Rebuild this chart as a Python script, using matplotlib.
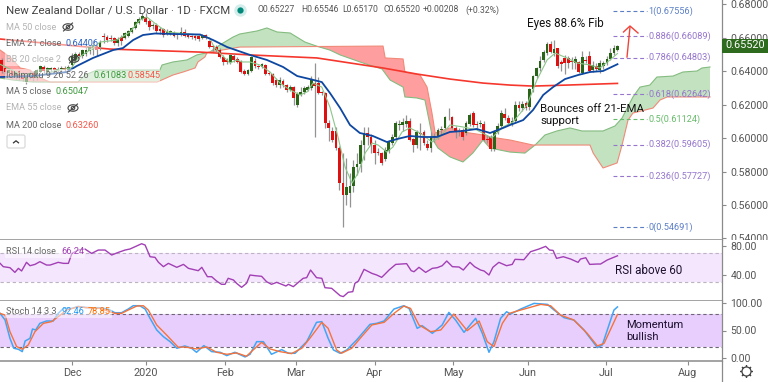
import numpy as np
import matplotlib
matplotlib.use("Agg")
import matplotlib.pyplot as plt
from matplotlib.patches import Ellipse, FancyBboxPatch, Rectangle

plt.rcParams['font.family'] = ['Roboto', 'DejaVu Sans']

# ---------- candles: one row per trading day (open, high, low, close)
ohlc = [
(.6466,.6478,.6388,.6400),(.6418,.6430,.6382,.6394),(.6388,.6412,.6370,.6406),(.6406,.6412,.6358,.6364),
(.6370,.6400,.6352,.6394),(.6400,.6406,.6346,.6358),(.6382,.6394,.6340,.6352),(.6334,.6376,.6322,.6370),
(.6364,.6400,.6352,.6388),(.6388,.6400,.6340,.6358),(.6358,.6412,.6346,.6406),(.6394,.6436,.6388,.6430),
(.6424,.6436,.6388,.6400),(.6394,.6424,.6388,.6418),(.6406,.6424,.6394,.6418),(.6418,.6424,.6394,.6406),
(.6406,.6424,.6394,.6412),(.6412,.6430,.6400,.6418),(.6418,.6430,.6394,.6406),(.6406,.6436,.6400,.6424),
(.6436,.6507,.6424,.6490),(.6466,.6513,.6454,.6501),(.6501,.6513,.6478,.6490),(.6490,.6531,.6478,.6525),
(.6501,.6555,.6490,.6525),(.6519,.6555,.6501,.6543),(.6525,.6585,.6496,.6555),(.6549,.6561,.6490,.6525),
(.6543,.6585,.6525,.6573),(.6609,.6627,.6567,.6603),(.6603,.6615,.6573,.6585),(.6597,.6615,.6579,.6591),
(.6597,.6603,.6555,.6567),(.6567,.6603,.6549,.6591),(.6603,.6615,.6555,.6579),(.6597,.6633,.6591,.6627),
(.6609,.6645,.6603,.6639),(.6633,.6663,.6627,.6657),(.6657,.6699,.6651,.6693),(.6687,.6722,.6681,.6710),
(.6710,.6746,.6704,.6728),(.6722,.6746,.6681,.6693),(.6699,.6710,.6645,.6663),(.6669,.6687,.6651,.6675),
(.6675,.6687,.6627,.6639),(.6651,.6663,.6621,.6639),(.6651,.6657,.6603,.6615),(.6621,.6651,.6615,.6633),
(.6627,.6645,.6615,.6639),(.6633,.6639,.6603,.6609),(.6621,.6627,.6591,.6615),(.6615,.6663,.6609,.6633),
(.6633,.6651,.6603,.6609),(.6621,.6627,.6597,.6603),(.6609,.6615,.6591,.6603),(.6609,.6615,.6585,.6597),
(.6609,.6615,.6579,.6591),(.6597,.6621,.6591,.6615),(.6615,.6621,.6591,.6597),(.6579,.6585,.6537,.6543),
(.6549,.6555,.6519,.6543),(.6543,.6555,.6513,.6525),(.6525,.6537,.6478,.6484),(.6484,.6496,.6436,.6454),
(.6466,.6478,.6442,.6454),(.6454,.6501,.6442,.6496),(.6490,.6501,.6454,.6466),(.6472,.6484,.6448,.6454),
(.6460,.6466,.6388,.6394),(.6400,.6412,.6376,.6382),(.6382,.6412,.6376,.6406),(.6400,.6490,.6394,.6484),
(.6460,.6478,.6418,.6430),(.6430,.6436,.6412,.6424),(.6424,.6448,.6418,.6442),(.6436,.6442,.6376,.6382),
(.6388,.6394,.6376,.6382),(.6382,.6388,.6316,.6328),(.6346,.6358,.6304,.6316),(.6316,.6364,.6298,.6346),
(.6340,.6352,.6304,.6316),(.6316,.6322,.6275,.6287),(.6287,.6316,.6281,.6304),(.6304,.6310,.6197,.6239),
(.6197,.6275,.6185,.6263),(.6257,.6304,.6251,.6275),(.6275,.6310,.6263,.6298),(.6287,.6316,.6281,.6304),
(.6298,.6370,.6287,.6352),(.6328,.6448,.6006,.6310),(.6328,.6364,.6263,.6269),(.6272,.6281,.6257,.6269),
(.6269,.6275,.6060,.6089),(.6089,.6107,.5980,.6060),(.6042,.6066,.5975,.5988),(.6042,.6066,.5928,.5940),
(.5940,.5950,.5690,.5731),(.5731,.5910,.5469,.5660),(.5660,.5880,.5600,.5707),(.5671,.5790,.5590,.5713),
(.5713,.5870,.5680,.5827),(.5827,.5910,.5780,.5845),(.5845,.5990,.5800,.5958),(.5958,.6066,.5869,.6030),
(.6030,.6066,.5958,.6006),(.6006,.6024,.5910,.5958),(.5958,.5990,.5845,.5910),(.5916,.5940,.5900,.5910),
(.5910,.5916,.5839,.5851),(.5875,.5946,.5863,.5928),(.5922,.5988,.5910,.5976),(.5970,.6024,.5958,.6006),
(.6006,.6100,.5990,.6090),(.6078,.6107,.6048,.6084),(.6078,.6120,.6042,.6096),(.6084,.6137,.6066,.6102),
(.6102,.6120,.5980,.5988),(.5994,.6000,.5916,.5958),(.5958,.6048,.5940,.6036),(.6030,.6090,.5928,.6024),
(.6036,.6048,.5958,.5970),(.5964,.5990,.5928,.5940),(.5940,.6036,.5916,.6006),(.6006,.6030,.5976,.6012),
(.6006,.6060,.5994,.6048),(.6048,.6072,.6018,.6054),(.6060,.6131,.6048,.6125),(.6131,.6179,.6107,.6131),
(.6125,.6131,.6054,.6060),(.6060,.6072,.6000,.6036),(.6042,.6060,.6012,.6036),(.6048,.6060,.5988,.6006),
(.6030,.6100,.6018,.6090),(.6084,.6150,.6072,.6137),(.6150,.6160,.6066,.6078),(.6084,.6100,.6060,.6078),
(.6084,.6107,.6066,.6090),(.6084,.6100,.5985,.5988),(.5994,.6018,.5970,.5988),(.6006,.6018,.5925,.5934),
(.5934,.6050,.5925,.6036),(.6036,.6090,.6024,.6070),(.6072,.6170,.6060,.6150),(.6144,.6180,.6110,.6120),
(.6120,.6137,.6080,.6090),(.6084,.6125,.6072,.6102),(.6102,.6221,.6090,.6197),(.6197,.6221,.6160,.6179),
(.6179,.6221,.6160,.6203),(.6209,.6221,.6170,.6179),(.6185,.6300,.6170,.6293),(.6293,.6376,.6275,.6370),
(.6370,.6424,.6358,.6418),(.6418,.6490,.6400,.6460),(.6466,.6525,.6454,.6513),(.6507,.6573,.6496,.6561),
(.6561,.6579,.6507,.6513),(.6507,.6585,.6490,.6531),(.6537,.6540,.6415,.6430),(.6454,.6466,.6400,.6442),
(.6478,.6496,.6380,.6448),(.6478,.6490,.6420,.6448),(.6460,.6484,.6410,.6454),(.6448,.6490,.6410,.6472),
(.6454,.6460,.6388,.6394),(.6388,.6520,.6380,.6484),(.6466,.6490,.6445,.6460),(.6490,.6520,.6394,.6400),
(.6406,.6460,.6394,.6436),(.6430,.6450,.6400,.6412),(.6406,.6465,.6390,.6448),(.6430,.6460,.6412,.6448),
(.6448,.6490,.6436,.6472),(.6472,.6535,.6466,.6507),(.6507,.6555,.6496,.6537),(.65227,.65546,.6517,.6552),
]

# ---------- overlay studies
ema21_i = [-.4,8.9,18.6,21.4,26,31.7,34.5,37.4,40.2,43.6,48.7,56.4,60.1,64.1,70.6,75.4,80,84,87.6,91,93.3,96.2,99,101.8,105.5,109.5,112.4,116,119.7,123.7,127.4,131.1,135,138.8,142.5,144.5,148.2,151,153.9,156.7,160.1,163.8,167.2,170.9,175]
ema21_v = [.6364,.6370,.6394,.6430,.6478,.6525,.6537,.6585,.6615,.6624,.6621,.6618,.6585,.6543,.6496,.6466,.6424,.6370,.6352,.6334,.6269,.6179,.6078,.6030,.6012,.5976,.5994,.6012,.6006,.6006,.6036,.6042,.6054,.6030,.6060,.6078,.6107,.6167,.6257,.6304,.6352,.6376,.6394,.6400,.64406]
ma200_i = [-.4,30.8,56.4,70.6,89.6,99,108.4,118,127.4,136.8,144.5,151,160.6,175]
ma200_v = [.6591,.6531,.6513,.6496,.6478,.6448,.6418,.6382,.6352,.6328,.6316,.6310,.6316,.6326]
ma5_i = [-.4,5,10,15,20,21.7,26,28,32.8,36.5,39.3,41.3,44.2,47,56.4,59.2,60.1,62,64.9,66.9,68.3,70.6,73.4,76.3,79.1,82,84.8,86.8,88.5,91,93.3,95.6,97.6,99.6,101.3,103.3,105.3,107,109.5,111.2,113.8,116,118.9,122.3,124.6,127.4,131.1,135,139.3,142.5,145.3,149.3,152.1,155,157.3,160.6,163.5,167.2,170,172.9,175]
ma5_v = [.6440,.6385,.6365,.6400,.6420,.6478,.6537,.6573,.6585,.6633,.6704,.6722,.6675,.6633,.6615,.6597,.6555,.6507,.6448,.6466,.6454,.6454,.6436,.6394,.6328,.6287,.6257,.6275,.6328,.6304,.6185,.6006,.5827,.5731,.5791,.5910,.5970,.5958,.5916,.5946,.6036,.6060,.6030,.5976,.6006,.6078,.6066,.6048,.6000,.6066,.6095,.6197,.6346,.6466,.6507,.6478,.6448,.6436,.6418,.6466,.65047]
span_a_i = [-.4,3.3,8.9,18.6,21.7,23.7,27.1,45,45.6,48.7,52.7,55.5,59.2,62,65.8,67.7,72.6,75.4,78.3,82,86.2,89.9,93.3,96.2,102.7,108.1,110.4,114.1,114.6,118,120.3,122.6,124,127.4,131.1,133.9,136.8,138.8,144.5,148.7,151.6,154.4,157.8,161.5,164.9,170.9,174.3,176.3,179.4,181.4,184.2,186.2,190.8,193.6,197.6,199,201.3]
span_a_v = [.6358,.6346,.6334,.6334,.6334,.6376,.6406,.6406,.6436,.6454,.6466,.6496,.6513,.6555,.6603,.6621,.6639,.6657,.6633,.6627,.6573,.6546,.6525,.6496,.6448,.6412,.6346,.6304,.6245,.6239,.6227,.5988,.5940,.5887,.5857,.5910,.5988,.5940,.5916,.5910,.5958,.6018,.6042,.6060,.6042,.6042,.6072,.6119,.6245,.6304,.6316,.6364,.6370,.6394,.6400,.6418,.6424]
span_b_i = [-.4,2.4,5.3,8.1,10.4,13.8,44.2,48.7,51.6,55,55.8,57.8,58.4,67.7,108.4,109,114.1,114.6,118.9,120.9,122.3,123.2,127.4,131.1,136.8,138.8,144.5,151,167.2,168.1,170.9,174.9,176.3,178,179.4,185.1,187.1,189.1,201.3]
span_b_v = [.6525,.6484,.6418,.6406,.6364,.6334,.6334,.6376,.6394,.6418,.6454,.6484,.6510,.6543,.6549,.6478,.6472,.6394,.6376,.6304,.6149,.6030,.6060,.6036,.6018,.6006,.5988,.5958,.5958,.5910,.5821,.5851,.5958,.6107,.6149,.6179,.6227,.6245,.6245]

fib_ratio = ['1', '0.886', '0.786', '0.618', '0.5', '0.382', '0.236', '0']
fib_price = [.67556, .66089, .64803, .62642, .61124, .59605, .57727, .54691]
fib_color = ['#5B7FC7', '#9575CD', '#9575CD', '#9575CD', '#66BB6A', '#9575CD', '#9575CD', '#5B7FC7']

# ---------- RSI
rsi_i = [-.4,.5,2.4,3.8,4.8,5.7,7.1,8.1,9.5,10.9,12.8,13.8,16.1,17.6,19,20,21.8,23.7,25.6,27.5,29.4,31.3,33.2,35.1,36.5,39.8,40.8,42.2,43.6,44.6,46,47.4,49.8,51.7,53.1,55.9,56.9,58.5,59.7,61.1,62.5,63.5,64.4,65.9,66.8,68.2,69.6,70.6,72,73.9,75.3,76.7,78.2,80.8,81.5,82.9,85.7,86.7,87.8,89.5,91,91.9,93.8,96.2,97.1,98.5,99.8,100.4,101.4,103,105.2,106.6,108,108.7,
         110.1,112,115.1,116.4,117.2,118.6,120.5,122.4,123.8,125.2,126.5,128.1,130,131.2,133.1,134.4,136.1,137.1,138.5,139.6,141.3,143.5,145.1,145.9,148.4,150.3,152.7,154.6,155.7,156.7,157.7,159.6,161.7,163.8,164.5,166,167.1,169.3,170.2,172.1,175]
rsi_v = [55.9,51.4,50,43.6,49.1,45.5,57.3,52.7,54.5,58.2,53.6,53.6,57.3,55.9,55.9,69.5,74.1,75.5,69.5,74.1,74.1,67.3,70.9,74.1,75.5,82.7,80.9,65,64.1,57.3,51.4,55.9,50.5,54.5,49.1,45.9,50.5,37.7,37.7,31.8,27.3,27.3,35.5,33.2,28.6,23.2,28.6,40,39.1,38.2,30.9,27.3,30,25,27.3,24.1,35.5,36.4,46.8,36.4,35.5,22.7,21.8,11.8,10.5,16.4,17.3,28.6,31.8,47.7,42.3,40,36.8,40,
         46.8,54.5,55.5,45.9,44.5,50.5,43.6,49.1,50,52.7,59.1,51.4,50.9,46.8,57.3,51.4,46.8,45.5,40,50.5,57.3,52.7,54.5,61.4,60.9,71.8,75.5,79.1,74.1,73.6,62.7,65,61.8,57.3,61.8,63.6,54.5,55,55,60.5,66.24]

# ---------- Stochastic
k_i = [-.4,1,2.4,3.5,4.8,5.9,6.7,8.1,8.8,9.7,10.9,12.8,14.7,16.1,17.6,20,21.8,23.7,25.6,28,30.3,32.2,34.1,36,37.4,39.3,40.8,42.2,44.1,46,47.9,49.8,52.1,54,55.4,57.5,59.7,62.1,64,66.3,69.2,70.6,72.5,74.4,76.7,79.6,81.5,83.4,86.7,89.5,91,92.8,94.3,96.2,98.1,100.9,104.7,106.6,108.7,
       111.5,114.3,115.8,118.1,119.5,122.4,125.2,127.1,129,131.4,134.7,136.6,138.5,139.9,141.8,143.5,144.6,147.5,151.3,155.1,157,159.8,162.6,165.5,169.3,170.7,174,175]
k_v = [80.8,68.9,35.9,18,16.2,12,31.1,35.9,52.7,50.9,62.9,67.1,67.1,80.8,89.8,89.8,93.4,91.6,91,91,88.6,82,82,88.6,94.6,94.6,88.6,71.9,50.9,38.9,29.9,18,22.2,18,10.8,22.8,12,10.8,4.8,10.8,2.4,7.2,29.9,29.9,7.2,15.6,9,9,29.9,64.7,65.9,35.9,15,9,15,32.9,61.1,62.9,67.1,
       88.6,94.6,89.8,53.9,58.7,44.9,59.9,82.6,68.9,46.7,71.9,44.9,10.8,29.9,71.9,83.8,79.6,88.6,98.8,97,86.8,73.1,68.9,50.9,19.2,24,86.8,92.46]
d_i = [-.4,1,2.4,4.3,5.9,7.6,9.5,11.9,14.2,16.1,18.5,21.8,24.2,28,32.2,34.1,36,38.4,40.3,41.7,44.1,46.9,50.2,52.1,55.4,58.3,61.1,64,66.8,69.6,71.5,73.9,76.3,79.1,82.4,85.3,87.6,91,92.8,95.2,96.6,99.5,102.3,105.2,108.7,
       111.5,114.3,116.2,118.6,121.9,124.8,128.5,132.3,135.7,138,139.9,142.3,144.2,147.5,153.2,156,158.8,162.6,166.4,169.3,171.2,175]
d_v = [80.8,77.8,47.9,21,16.2,24,47.9,62.9,65.9,74.9,86.8,92.8,91,89.8,80.8,80.8,86.8,94,94.6,86.8,59.9,41.9,19.8,20.4,16.8,20.4,10.8,7.2,9.6,3.6,15,28.7,16.8,12,8.4,18,35.9,64.7,53.9,15,9,18,38.9,59.9,64.7,
       80.8,94,89.8,59.9,47.9,50.9,79.6,49.7,67.1,29.9,21,62.9,80.8,86.8,97,94.6,77.8,68.9,44.9,22.2,26.9,78.85]

# ---------- axes labels
month_labels = ['Dec', '2020', 'Feb', 'Mar', 'Apr', 'May', 'Jun', 'Jul', 'Aug']
month_bars = [20, 41, 63.5, 83.7, 106, 128.3, 149.6, 171.7, 195]
price_ticks = [.54, .56, .58, .60, .62, .64, .66, .68]
rsi_ticks = [40, 80]
stoch_ticks = [0, 50, 100]

W, H = 768, 382
fig = plt.figure(figsize=(W / 100, H / 100), dpi=100, facecolor='white')
AXW = 722 / W

def panel(y0, y1):
    return fig.add_axes([0, 1 - y1 / H, AXW, (y1 - y0) / H])

ax = panel(0, 240)
ax_r = panel(240, 300.5)
ax_s = panel(300.5, 361)
XL = (-.43, 204.7)
GREY = '#8a8a8a'
TXT = '#555555'
for a in (ax, ax_r, ax_s):
    a.set_xlim(*XL)
    a.yaxis.tick_right()
    a.tick_params(axis='y', length=3, width=.8, color=GREY, labelcolor=TXT, labelsize=7.6, pad=3)
    for s in ('left', 'top'):
        a.spines[s].set_visible(False)
    a.spines['right'].set_color(GREY)
    a.spines['bottom'].set_color(GREY)
    a.spines['bottom'].set_linewidth(1.1)
    a.spines['right'].set_linewidth(.9)
    a.set_xticks([])

ax.set_ylim(.5391, .6824)
ax_r.set_ylim(5.2, 87.8)
ax_s.set_ylim(-4.9, 104)

# cloud
grid = np.linspace(-.4, 201.3, 2400)
a_g = np.interp(grid, span_a_i, span_a_v)
b_g = np.interp(grid, span_b_i, span_b_v)
ax.fill_between(grid, a_g, b_g, where=a_g >= b_g, interpolate=True, color='#C3E2C0', lw=0, zorder=1)
ax.fill_between(grid, a_g, b_g, where=a_g < b_g, interpolate=True, color='#FF9E9E', lw=0, zorder=1)
ax.plot(span_a_i, span_a_v, color='#84BC80', lw=.8, zorder=1.5)
ax.plot(span_b_i, span_b_v, color='#F08A78', lw=.8, zorder=1.5)

# MA200 / candles / MA5 / EMA21
ax.plot(ma200_i, ma200_v, color='#F5372D', lw=1.2, zorder=2)
o, h, l, c = np.array(ohlc).T
idx = np.arange(len(o))
ax.vlines(idx, l, h, color='#939393', lw=.9, zorder=3)
up = c >= o
ax.bar(idx[up], (c - o)[up], bottom=o[up], width=.78, color='#2A6418', lw=0, zorder=4)
ax.bar(idx[~up], (o - c)[~up], bottom=c[~up], width=.78, color='#DE1010', lw=0, zorder=4)
ax.plot(ma5_i, ma5_v, color='#8CC68A', lw=.8, zorder=5)
ax.plot(ema21_i, ema21_v, color='#0D47A1', lw=1.3, zorder=6)

# fib levels
for r, p, col in zip(fib_ratio, fib_price, fib_color):
    ax.hlines(p, 173.8, 183.4, color=col, lw=.8, linestyles=(0, (3.5, 2.5)), zorder=5)
    ax.text(183.8, p, f'{r}({p:.5f})', color=col, fontsize=6.6, va='center', ha='left', zorder=7)

ax.set_yticks(price_ticks)
ax.set_yticklabels([f'{t:.5f}' for t in price_ticks])

# RSI
ax_r.axhspan(30, 70, color='#F4E6FD', lw=0, zorder=1)
for v in (30, 70):
    ax_r.axhline(v, color='#BDB3C4', lw=.8, ls=(0, (3, 2.5)), zorder=2)
ax_r.plot(rsi_i, rsi_v, color='#A23FB5', lw=1.0, zorder=3)
ax_r.set_yticks(rsi_ticks)
ax_r.set_yticklabels([f'{t:.2f}' for t in rsi_ticks])

# Stoch
ax_s.axhspan(20, 80, color='#E8CEFC', lw=0, zorder=1)
for v in (20, 80):
    ax_s.axhline(v, color='#6E6675', lw=.8, ls=(0, (3, 2.5)), zorder=2)
ax_s.plot(k_i, k_v, color='#42A5F5', lw=1.1, zorder=3)
ax_s.plot(d_i, d_v, color='#F4733D', lw=1.0, zorder=4)
ax_s.set_yticks(stoch_ticks)
ax_s.set_yticklabels([f'{t:.2f}' for t in stoch_ticks])
ax_s.set_xticks(month_bars)
ax_s.set_xticklabels(month_labels)
ax_s.tick_params(axis='x', length=3, width=.8, color=GREY, labelcolor=TXT, labelsize=7.8, pad=2)

# the lowest price label is cut by the panel border, as in the reference
fig.canvas.draw()
clip = Rectangle((722, 382 - 240), 46, 240, transform=None)
for lbl in ax.get_yticklabels():
    lbl.set_clip_on(True)
    lbl.set_clip_path(clip)

# ---------- overlay in pixel space for legend, notes and widgets
ov = fig.add_axes([0, 0, 1, 1], facecolor='none')
ov.set_xlim(0, W)
ov.set_ylim(H, 0)
ov.axis('off')

def T(x, y, s, color=TXT, size=6.6, **kw):
    kw.setdefault('va', 'center')
    kw.setdefault('ha', 'left')
    return ov.text(x, y, s, color=color, fontsize=size, **kw)

def legend_bg(x0, y0, x1, y1):
    ov.add_patch(Rectangle((x0, y0), x1 - x0, y1 - y0, fc='white', ec='none', alpha=.5, zorder=0))

def eye(x, y):
    ov.add_patch(Ellipse((x, y), 10, 6.5, fc='none', ec='#444444', lw=.8))
    ov.add_patch(Ellipse((x, y), 3.5, 3.5, fc='none', ec='#444444', lw=.8))
    ov.plot([x - 4.5, x + 4.5], [y + 4, y - 4], color='#444444', lw=.8)

T(6, 10, 'New Zealand Dollar / U.S. Dollar · 1D · FXCM', color='#444444', size=8.2)
ov.plot([240], [10], 'o', ms=9, color='#26A69A', alpha=.2, mew=0)
ov.plot([240], [10], 'o', ms=4.5, color='#00897B', mew=0)
for hx, hs in [(258, 'O0.65227'), (301, 'H0.65546'), (342, 'L0.65170'), (383.5, 'C0.65520'), (423, '+0.00208'), (465, '(+0.32%)')]:
    T(hx, 10, hs, color='#555555', size=6.2)

for y, x1 in [(27, 55), (43, 98), (59, 60), (76, 160), (92, 88), (108, 60), (125, 98)]:
    legend_bg(5, y - 7, x1, y + 7)
HID = '#B4B4B4'
T(6, 27, 'MA 50 close', HID); eye(68, 27)
T(6, 43, 'EMA 21 close', '#666666'); T(65, 43, '0.64406', '#2962C4')
T(6, 59, 'BB 20 close 2', HID); eye(74, 59)
T(6, 76, 'Ichimoku 9 26 52 26', '#666666')
T(93, 76, '0.61083', '#3C9A3C'); T(128, 76, '0.58545', '#F4574A')
T(6, 92, 'MA 5 close', '#666666'); T(56, 92, '0.65047', '#3C9A3C')
T(6, 108, 'EMA 55 close', HID); eye(73, 108)
T(6, 125, 'MA 200 close', '#666666'); T(65, 125, '0.63260', '#F4574A')
ov.add_patch(FancyBboxPatch((7, 135), 18, 13, boxstyle='round,pad=0,rounding_size=2', fc='white', ec='#DADADA', lw=.9))
ov.plot([13.5, 16, 18.5], [142.8, 140.8, 142.8], color='#333333', lw=.9)

legend_bg(5, 244, 85, 258)
T(6, 251, 'RSI 14 close', '#666666'); T(61, 251, '66.24', '#A23FB5')
legend_bg(5, 304, 112, 318)
T(6, 311, 'Stoch 14 3 3', '#666666'); T(62, 311, '92.46', '#2196F3'); T(88, 311, '78.85', '#FF6D00')

# price tag
ov.add_patch(Rectangle((722, 38.5), 46, 14.5, fc='#2E6B1E', ec='none'))
T(745, 45.5, '0.65520', 'white', 7.8, ha='center')

# analyst notes
NOTE = '#111111'
T(527, 24, 'Eyes 88.6% Fib', NOTE, 8.4)
T(540, 109.5, 'Bounces off 21-EMA', NOTE, 8.2)
T(540, 121.5, 'support', NOTE, 8.2)
T(615, 270, 'RSI above 60', '#1D1130', 8.4)
T(626, 325.5, 'Momentum', '#1D1130', 8.0)
T(626, 337.5, 'bullish', '#1D1130', 8.0)
ov.plot([627, 630], [57, 27], color='#F0443A', lw=1.0)
ov.plot([623.5, 630, 638], [32, 26, 33], color='#F0443A', lw=1.0)

# settings gear
ov.plot([746], [371], marker=(8, 2, 0), ms=9, color='#444444', mew=.9)
ov.plot([746], [371], 'o', ms=6.5, mfc='white', mec='#444444', mew=.9)
ov.plot([722, 722], [361, 382], color=GREY, lw=.9)

fig.savefig('out.png', dpi=100)
